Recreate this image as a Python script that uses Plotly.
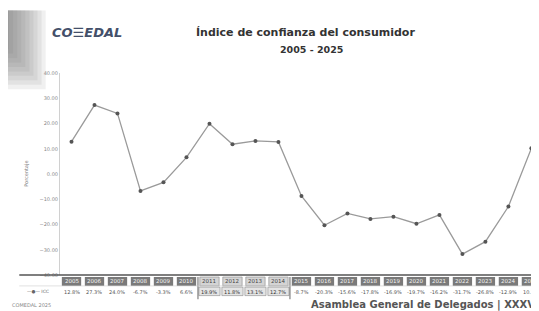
import plotly.graph_objects as go

years = [str(y) for y in range(2005, 2026)]
icc = [12.8, 27.3, 24.0, -6.7, -3.3, 6.6, 19.9, 11.8, 13.1, 12.7, -8.7,
       -20.3, -15.6, -17.8, -16.9, -19.7, -16.2, -31.7, -26.8, -12.9, 10.2]
y_ticks = [-40, -30, -20, -10, 0, 10, 20, 30, 40]

fig = go.Figure()
fig.add_trace(go.Scatter(
    x=list(range(len(years))), y=icc, mode="lines+markers",
    line=dict(color="#9a9a9a", width=1.3),
    marker=dict(color="#555555", size=4),
    showlegend=False, hoverinfo="skip", cliponaxis=False))

shapes = []
annotations = []
# gradient logo band (layered rects)
n = 10
for i in range(n):
    shapes.append(dict(type="rect", xref="paper", yref="paper",
                       x0=-0.115, x1=-0.115 + 0.085 * (1 - i / n),
                       y0=0.92 + 0.022 * i, y1=1.31,
                       fillcolor="#6a6a6a", opacity=0.10, line=dict(width=0), layer="below"))

yr_top, yr_bot = -0.010, -0.054
val_bot = -0.110
for i, (yr, v) in enumerate(zip(years, icc)):
    hl = 6 <= i <= 9
    shapes.append(dict(type="rect", xref="x", yref="paper", x0=i - 0.42, x1=i + 0.42,
                       y0=yr_bot, y1=yr_top,
                       fillcolor="#d4d4d4" if hl else "#7a7a7a",
                       line=dict(width=0.6 if hl else 0, color="#888888")))
    annotations.append(dict(x=i, y=(yr_top + yr_bot) / 2, xref="x", yref="paper",
                            xanchor="center", yanchor="middle",
                            text=yr, showarrow=False,
                            font=dict(size=5.5, color="#444444" if hl else "#f4f4f4",
                                      family="DejaVu Sans")))
    if hl:
        shapes.append(dict(type="rect", xref="x", yref="paper", x0=i - 0.46, x1=i + 0.46,
                           y0=val_bot + 0.008, y1=yr_bot - 0.006,
                           fillcolor="#e4e4e4", line=dict(width=0.6, color="#888888")))
    annotations.append(dict(x=i, y=(yr_bot + val_bot) / 2, xref="x", yref="paper",
                            xanchor="center", yanchor="middle",
                            text=f"{v:.1f}%", showarrow=False,
                            font=dict(size=5, color="#333333" if hl else "#555555",
                                      family="DejaVu Sans")))
# highlighted block 2011-2014
shapes.append(dict(type="line", xref="x", yref="paper", x0=5.5, x1=5.5,
                   y0=val_bot - 0.01, y1=yr_top, line=dict(color="#666666", width=1)))
shapes.append(dict(type="line", xref="x", yref="paper", x0=9.5, x1=9.5,
                   y0=val_bot - 0.01, y1=yr_top, line=dict(color="#666666", width=1)))
# table lines
shapes.append(dict(type="line", xref="paper", yref="paper", x0=-0.085, x1=1,
                   y0=0, y1=0, line=dict(color="#555555", width=1.5)))
shapes.append(dict(type="line", xref="paper", yref="paper", x0=-0.085, x1=1,
                   y0=yr_bot, y1=yr_bot, line=dict(color="#cccccc", width=0.6)))

annotations += [
    dict(x=-0.045, y=(yr_bot + val_bot) / 2, xref="paper", yref="paper",
         xanchor="center", yanchor="middle",
         text="—●— ICC", showarrow=False, font=dict(size=4.5, color="#666666")),
    dict(x=-0.060, y=0.5, xref="paper", yref="paper", text="Porcentaje",
         textangle=-90, showarrow=False, font=dict(size=5, color="#777777"),
         xanchor="right", yanchor="middle"),
    dict(x=-0.021, y=1.20, xref="paper", yref="paper", text="<b><i>CO☰EDAL</i></b>",
         xanchor="left", yanchor="middle",
         showarrow=False, font=dict(size=13, color="#44506a", family="DejaVu Sans")),
    dict(x=0.513, y=1.20, xref="paper", yref="paper",
         xanchor="center", yanchor="middle",
         text="<b>Índice de confianza del consumidor</b>", showarrow=False,
         font=dict(size=11, color="#333333", family="DejaVu Sans")),
    dict(x=0.525, y=1.115, xref="paper", yref="paper", text="<b>2005 - 2025</b>",
         xanchor="center", yanchor="middle",
         showarrow=False, font=dict(size=9.5, color="#333333", family="DejaVu Sans")),
    dict(x=0.52, y=-0.15, xref="paper", yref="paper", xanchor="left", yanchor="middle",
         text="<b>Asamblea General de Delegados | XXXV</b>", showarrow=False,
         font=dict(size=10, color="#555555", family="DejaVu Sans")),
    dict(x=-0.105, y=-0.15, xref="paper", yref="paper", xanchor="left", yanchor="middle",
         text="COMEDAL 2025", showarrow=False,
         font=dict(size=5, color="#888888", family="DejaVu Sans")),
]

fig.update_layout(
    width=539, height=311,
    margin=dict(l=52, r=8, t=65, b=44),
    paper_bgcolor="white", plot_bgcolor="white",
    shapes=shapes, annotations=annotations,
    xaxis=dict(range=[-0.5, 20.33], showticklabels=False, showgrid=False,
               zeroline=False, showline=False),
    yaxis=dict(range=[-40, 40], tickvals=y_ticks, tickformat=".2f",
               showgrid=False, zeroline=False, showline=True, linecolor="#d0d0d0",
               tickfont=dict(size=5, color="#888888"), ticks=""),
    font=dict(family="DejaVu Sans"),
)
fig.write_html("out.html")
